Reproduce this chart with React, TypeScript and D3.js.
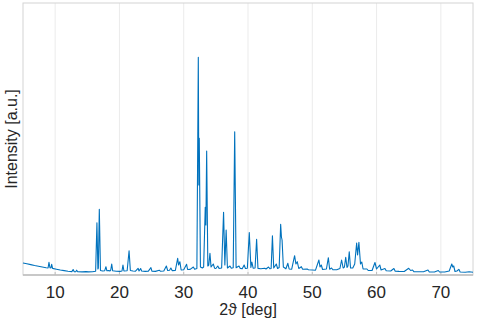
import React from "react";
import * as d3 from "d3";

// powder pattern: [2theta in deg, intensity]
const pattern: [number, number][] = [
  [5.0, 120], [5.6, 112], [6.2, 104], [6.8, 95], [7.4, 88], [8.0, 80], [8.6, 72], [8.9, 70],
  [9.04, 127], [9.2, 72], [9.35, 70], [9.46, 107], [9.6, 66], [10.2, 58], [10.8, 50], [11.4, 44],
  [12.0, 38], [12.6, 34], [12.8, 55], [12.95, 34], [13.2, 33], [13.35, 48], [13.5, 32], [14.2, 31],
  [14.8, 34], [15.2, 31], [15.8, 32], [16.3, 38], [16.5, 523], [16.65, 60], [16.72, 70], [16.87, 657],
  [17.05, 45], [17.4, 40], [17.7, 42], [17.9, 83], [18.05, 42], [18.3, 45], [18.5, 40], [18.65, 50],
  [18.8, 110], [18.95, 42], [19.5, 38], [20.1, 36], [20.4, 40], [20.55, 100], [20.7, 40], [21.2, 42],
  [21.5, 243], [21.7, 45], [22.1, 40], [22.5, 38], [22.9, 67], [23.05, 40], [23.3, 65], [23.45, 40],
  [24.0, 36], [24.5, 38], [24.9, 73], [25.05, 38], [25.6, 36], [26.2, 48], [26.4, 37], [26.9, 40],
  [27.3, 90], [27.5, 45], [27.8, 48], [28.0, 70], [28.2, 44], [28.7, 46], [29.06, 167], [29.2, 100],
  [29.4, 133], [29.6, 50], [30.0, 52], [30.45, 107], [30.6, 55], [31.0, 56], [31.5, 80], [31.7, 58],
  [32.05, 65], [32.27, 2177], [32.35, 900], [32.42, 1367], [32.6, 80], [32.9, 70], [33.1, 80],
  [33.35, 677], [33.45, 500], [33.57, 1240], [33.75, 90], [33.9, 100], [34.08, 217], [34.25, 80],
  [34.6, 110], [34.8, 68], [35.0, 65], [35.3, 90], [35.5, 66], [35.9, 70], [36.2, 627], [36.4, 100],
  [36.6, 450], [36.8, 70], [37.2, 90], [37.4, 68], [37.7, 72], [37.93, 1433], [38.15, 72], [38.6, 90],
  [38.8, 66], [39.1, 62], [39.4, 100], [39.6, 65], [39.9, 68], [40.2, 425], [40.45, 75], [40.6, 130],
  [40.8, 68], [41.1, 70], [41.34, 357], [41.55, 66], [42.0, 62], [42.6, 67], [42.8, 60], [43.2, 80],
  [43.4, 62], [43.6, 65], [43.8, 393], [44.0, 70], [44.4, 110], [44.6, 65], [44.85, 75], [45.08, 507],
  [45.2, 380], [45.3, 350], [45.5, 80], [45.9, 62], [46.2, 117], [46.4, 60], [46.8, 58], [47.25, 193],
  [47.45, 110], [47.66, 133], [47.9, 65], [48.3, 83], [48.5, 58], [49.2, 60], [49.4, 52], [50.0, 50],
  [50.5, 48], [51.03, 150], [51.2, 80], [51.4, 100], [51.6, 55], [52.2, 60], [52.5, 173], [52.7, 58],
  [53.0, 70], [53.2, 52], [53.8, 52], [54.3, 65], [54.56, 150], [54.8, 70], [55.0, 80], [55.2, 177],
  [55.4, 75], [55.55, 90], [55.75, 233], [55.95, 70], [56.3, 70], [56.6, 110], [56.9, 320], [57.05, 200],
  [57.25, 327], [57.5, 110], [57.7, 130], [57.9, 60], [58.5, 60], [58.7, 45], [59.3, 45], [59.75, 125],
  [60.0, 60], [60.5, 100], [60.7, 50], [61.3, 65], [61.5, 42], [62.2, 40], [62.7, 65], [62.9, 38],
  [63.5, 36], [64.3, 35], [65.0, 67], [65.3, 45], [65.6, 50], [65.8, 34], [66.6, 32], [67.3, 32],
  [68.0, 50], [68.2, 30], [69.0, 30], [69.6, 45], [69.8, 30], [70.6, 30], [71.3, 40], [71.7, 110],
  [71.85, 80], [72.0, 90], [72.2, 35], [72.5, 40], [72.8, 57], [73.0, 30], [73.8, 28], [74.4, 32],
  [75.0, 28],
];

const xTicks = [10, 20, 30, 40, 50, 60, 70];
const xDomain = [5, 75];
const yDomain = [0, 2720];

const W = 477;
const H = 321;
const left = 23;
const right = 473;
const top = 3;
const bottom = 275;

export default function App() {
  const x = d3.scaleLinear().domain(xDomain).range([left, right]);
  const y = d3.scaleLinear().domain(yDomain).range([bottom, top]);

  const line = d3
    .line<[number, number]>()
    .x((d) => x(d[0]))
    .y((d) => y(d[1]));

  return (
    <svg
      width={W}
      height={H}
      style={{ position: "absolute", left: 0, top: 0, background: "#fff" }}
      fontFamily="'Liberation Sans', Arial, sans-serif"
    >
      {xTicks.map((t) => (
        <line key={"g" + t} x1={x(t)} x2={x(t)} y1={top} y2={bottom} stroke="#ebebeb" strokeWidth={1} />
      ))}
      <rect x={left} y={top} width={right - left} height={bottom - top} fill="none" stroke="#d4d4d4" strokeWidth={1} />
      <line x1={left} x2={right} y1={bottom} y2={bottom} stroke="#bdbdbd" strokeWidth={1.5} />
      {xTicks.map((t) => (
        <line key={"t" + t} x1={x(t)} x2={x(t)} y1={bottom} y2={bottom - 3} stroke="#bdbdbd" strokeWidth={1} />
      ))}
      <path d={line(pattern) || ""} fill="none" stroke="#0072BD" strokeWidth={1.1} strokeLinejoin="round" />
      {xTicks.map((t) => (
        <text key={"l" + t} x={x(t)} y={297.5} textAnchor="middle" fontSize={17} fill="#262626">
          {t}
        </text>
      ))}
      <text x={(left + right) / 2} y={315} textAnchor="middle" fontSize={16} fill="#262626">
        2ϑ [deg]
      </text>
      <text
        transform={`translate(16.5, ${(top + bottom) / 2}) rotate(-90)`}
        textAnchor="middle"
        fontSize={16}
        fill="#262626"
      >
        Intensity [a.u.]
      </text>
    </svg>
  );
}
